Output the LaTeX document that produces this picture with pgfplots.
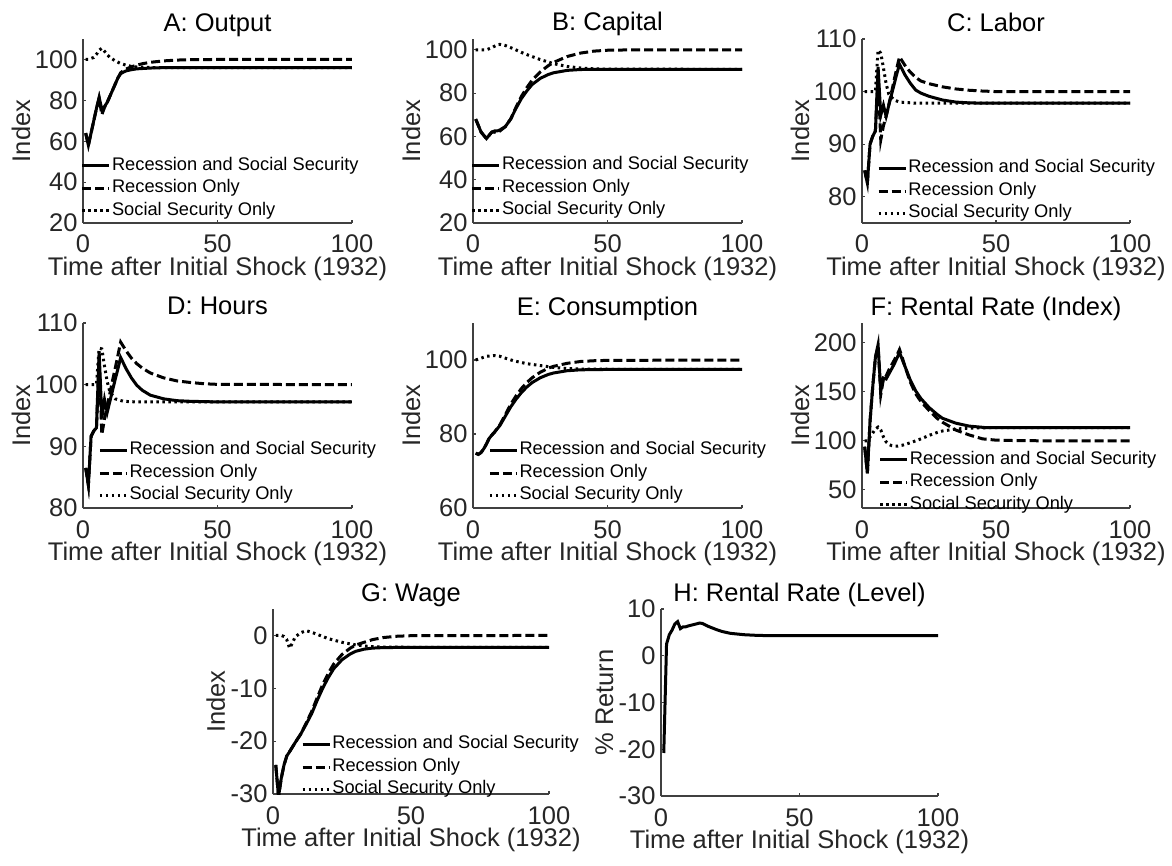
\documentclass[border=0pt]{standalone}
\usepackage{fontspec}
\setmainfont{Liberation Sans}
\usepackage{pgfplots}
\pgfplotsset{compat=1.18}

\pgfplotsset{
  mstyle/.style={
    scale only axis,
    anchor=south west,
    axis x line*=bottom, axis y line*=left,
    axis line style={black!75, line width=0.45pt},
    xmin=0, xmax=100, xtick={0,50,100},
    tick align=inside, major tick length=1.2pt,
    tick style={black!75, line width=0.45pt},
    ticklabel style={font=\fontsize{10.2}{12}\selectfont, text=black!85},
    /pgf/number format/assume math mode=true,
    xticklabel style={anchor=base, yshift=-12pt, inner sep=0pt},
    yticklabel style={anchor=east, inner sep=0pt, xshift=-2pt},
    every axis title shift=0pt,
    title style={at={(axis description cs:0.5,1)}, anchor=base, yshift=3.2pt, inner sep=0pt, font=\fontsize{10.2}{12}\selectfont},
    xlabel style={at={(axis description cs:0.5,0)}, anchor=base, yshift=-20.8pt, inner sep=0pt, font=\fontsize{10.2}{12}\selectfont, text=black!85},
    ylabel style={at={(axis description cs:-0.197,0.5)}, anchor=base, inner sep=0pt, font=\fontsize{10.2}{12}\selectfont, text=black!85},
    xlabel={Time after Initial Shock (1932)}, ylabel={Index},
    legend cell align=left,
    legend image code/.code={\draw[#1] (0pt,0pt) -- (10.8pt,0pt);},
    legend style={draw=none, fill=none, anchor=north west, inner sep=0pt,
      font=\fontsize{7.3}{9}\selectfont, row sep=0pt, column sep=0.5pt,
      nodes={inner sep=0pt, text height=6.2pt, text depth=2.8pt}},
  },
  s1/.style={black, line width=1.2pt},
  s2/.style={black, line width=1.2pt, dash pattern=on 3.6pt off 1.6pt},
  s3/.style={black, line width=1.2pt, dash pattern=on 1pt off 1.4pt},
}

\begin{document}
\begin{tikzpicture}
\useasboundingbox (0,0) rectangle (468.8pt,346pt);

% A: Output
\begin{axis}[mstyle, at={(33.2pt,256.8pt)}, width=107.6pt, height=73.6pt,
  ymin=20, ymax=110, ytick={20,40,60,80,100}, title={A: Output},
  legend style={at={(-0.01,0.375)}}]
\addplot[s1] coordinates {(1,64) (2,58) (3,64) (4,70) (5,76) (6,81.5) (7,75.5) (8,77) (9,79) (10,82) (11,85) (12,88) (13,91) (14,93) (15,93.8) (16,94.4) (18,95) (20,95.4) (25,95.8) (30,96) (40,96) (100,96)};
\addplot[s2] coordinates {(1,64) (2,58) (3,64) (4,70) (5,76) (6,81) (7,73) (8,76.5) (9,79) (10,82) (11,85) (12,88) (13,91) (14,93.5) (15,94.5) (16,95.3) (18,96.4) (20,97.2) (22,97.9) (25,98.6) (30,99.3) (35,99.7) (40,99.9) (50,100) (100,100)};
\addplot[s3] coordinates {(1,100) (2,100) (3,100.5) (4,101) (5,102.5) (6,104.5) (7,105.5) (8,104) (9,102.3) (10,101) (12,99.3) (14,98) (16,97.2) (18,96.6) (20,96.3) (25,96.05) (30,96) (100,96)};
\legend{Recession and Social Security, Recession Only, Social Security Only}
\end{axis}

% B: Capital
\begin{axis}[mstyle, at={(189.2pt,256.8pt)}, width=107.6pt, height=73.6pt,
  ymin=20, ymax=105, ytick={20,40,60,80,100}, title={B: Capital},
  legend style={at={(-0.01,0.375)}}]
\addplot[s1] coordinates {(1,68) (2,65) (3,62) (4,60.5) (5,59) (6,60.5) (7,62) (8,62.5) (9,62.5) (10,63) (12,64.5) (14,68) (16,73) (18,77.5) (20,81) (22,84) (25,86.8) (28,88.6) (30,89.4) (35,90.5) (40,90.9) (50,91) (100,91)};
\addplot[s2] coordinates {(1,68) (2,65) (3,62) (4,60.5) (5,59) (6,60.5) (7,62) (8,62) (9,61.5) (10,62.5) (12,64.5) (14,68) (16,73.5) (18,78.5) (20,82.5) (22,86) (25,89.8) (28,92.7) (30,94.2) (35,96.9) (40,98.5) (45,99.4) (50,99.8) (60,100) (100,100)};
\addplot[s3] coordinates {(1,100) (3,100) (5,100) (7,101) (9,102.3) (10,102.5) (12,102) (15,100.5) (18,98.8) (20,97.8) (25,95.5) (30,93.6) (35,92.3) (40,91.6) (45,91.2) (50,91.05) (100,91)};
\legend{Recession and Social Security, Recession Only, Social Security Only}
\end{axis}

% C: Labor
\begin{axis}[mstyle, at={(344.8pt,256.8pt)}, width=107.2pt, height=73.6pt,
  ymin=75, ymax=110, ytick={80,90,100,110}, title={C: Labor},
  legend style={at={(0.055,0.36)}}]
\addplot[s1] coordinates {(1,85) (2,82.6) (3,90) (4,91.5) (5,92.5) (6,104.7) (7,95.5) (8,97.4) (9,95.3) (10,97.4) (11,99.4) (12,101.4) (13,103.4) (14,105.2) (15,104.2) (16,103.2) (18,101.6) (20,100.3) (22,99.7) (25,99.1) (30,98.4) (35,98) (40,97.85) (45,97.8) (100,97.8)};
\addplot[s2] coordinates {(1,85) (2,82.6) (3,90) (4,91.5) (5,92.5) (6,103) (7,90.8) (8,93.5) (9,95.3) (10,97.5) (11,99.8) (12,102.2) (13,104.5) (14,106.6) (15,105.8) (16,105) (18,103.7) (20,102.7) (22,102) (25,101.5) (30,100.9) (35,100.5) (40,100.25) (45,100.1) (50,100) (100,100)};
\addplot[s3] coordinates {(1,100) (5,100) (6,107.9) (7,107.3) (8,104.5) (9,101.5) (10,99.5) (12,98.4) (14,98) (20,97.8) (100,97.8)};
\legend{Recession and Social Security, Recession Only, Social Security Only}
\end{axis}

% D: Hours
\begin{axis}[mstyle, at={(33.2pt,142.8pt)}, width=107.6pt, height=74pt,
  ymin=80, ymax=110, ytick={80,90,100,110}, title={D: Hours},
  legend style={at={(0.055,0.373)}}]
\addplot[s1] coordinates {(1,86.5) (2,83.7) (3,91.6) (4,92.5) (5,93) (6,105.4) (7,94.6) (8,97.6) (9,95.5) (10,97.3) (11,99.1) (12,100.9) (13,102.6) (14,104.4) (15,103.5) (16,102.6) (18,101.1) (20,99.9) (22,99.1) (25,98.3) (30,97.7) (35,97.4) (40,97.3) (50,97.2) (100,97.2)};
\addplot[s2] coordinates {(1,86.5) (2,83.7) (3,91.6) (4,92.5) (5,93) (6,104) (7,91.9) (8,94.5) (9,96.5) (10,98.6) (11,100.7) (12,102.7) (13,104.8) (14,106.9) (15,106.2) (16,105.5) (18,104.3) (20,103.4) (22,102.7) (25,101.9) (30,101.1) (35,100.6) (40,100.35) (45,100.15) (50,100.05) (100,100)};
\addplot[s3] coordinates {(1,100) (5,100) (6,105.9) (7,105.8) (8,103) (9,100.5) (10,98.8) (12,97.7) (15,97.3) (20,97.2) (100,97.2)};
\legend{Recession and Social Security, Recession Only, Social Security Only}
\end{axis}

% E: Consumption
\begin{axis}[mstyle, at={(189.2pt,142.8pt)}, width=107.6pt, height=74pt,
  ymin=60, ymax=110, ytick={60,80,100}, title={E: Consumption},
  legend style={at={(0.055,0.373)}}]
\addplot[s1] coordinates {(1,74.8) (2,74.5) (3,75) (4,76) (5,77.3) (6,78.8) (7,79.7) (8,80.5) (10,82.3) (12,84.8) (14,87.3) (16,89.4) (18,91.2) (20,92.7) (22,93.9) (25,95.2) (28,96.1) (30,96.5) (35,97.1) (40,97.35) (50,97.45) (100,97.5)};
\addplot[s2] coordinates {(1,74.8) (2,74.5) (3,75) (4,76) (5,77.3) (6,78.8) (7,79.7) (8,80.5) (10,82.5) (12,85.2) (14,88) (16,90.3) (18,92.3) (20,93.9) (22,95.2) (25,96.7) (28,97.8) (30,98.3) (35,99.1) (40,99.6) (45,99.8) (50,99.9) (100,100)};
\addplot[s3] coordinates {(1,100) (3,100.5) (5,101) (8,101.2) (10,101) (12,100.5) (15,99.8) (20,99) (25,98.5) (30,98) (35,97.7) (40,97.55) (50,97.5) (100,97.5)};
\legend{Recession and Social Security, Recession Only, Social Security Only}
\end{axis}

% F: Rental Rate (Index)
\begin{axis}[mstyle, at={(344.8pt,142.8pt)}, width=107.2pt, height=74pt,
  ymin=31.6, ymax=220, ytick={50,100,150,200}, title={F: Rental Rate (Index)},
  legend style={at={(0.06,0.324)}}]
\addplot[s1] coordinates {(1,94) (2,67) (3,120) (4,155) (5,185) (6,198) (7,151) (8,164) (9,163) (10,168) (11,173) (12,178) (13,184) (14,190) (15,183) (16,176) (18,162) (20,151) (22,143) (25,134) (28,127) (30,123) (35,118) (40,115) (46,113.5) (100,113.5)};
\addplot[s2] coordinates {(1,94) (2,67) (3,120) (4,155) (5,185) (6,196) (7,147) (8,163) (9,166) (10,172) (11,177) (12,182) (13,187) (14,193) (15,185) (16,176) (18,160) (20,148) (22,140) (25,131) (28,123) (30,119) (35,111) (40,106) (45,102) (50,100.7) (60,100.1) (100,100)};
\addplot[s3] coordinates {(1,100) (2,100) (3,104) (4,108) (5,112) (6,114) (7,111) (8,104) (9,99) (10,96.5) (11,95.2) (12,94.7) (13,94.5) (15,95.5) (18,98) (20,100) (22,102) (25,105.5) (28,108.5) (30,110) (35,112) (40,113) (50,113.5) (100,113.5)};
\legend{Recession and Social Security, Recession Only, Social Security Only}
\end{axis}

% G: Wage
\begin{axis}[mstyle, at={(109.2pt,28.4pt)}, width=110.4pt, height=74pt,
  ymin=-30, ymax=5, ytick={-30,-20,-10,0}, title={G: Wage},
  ylabel style={at={(axis description cs:-0.174,0.5)}},
  legend style={at={(0.1,0.33)}}]
\addplot[s1] coordinates {(1,-24.5) (2,-30.5) (3,-27) (4,-24.5) (5,-22.8) (6,-22) (8,-20.3) (10,-18.7) (12,-16.8) (14,-14.8) (16,-12.3) (18,-10) (20,-8) (22,-6.3) (25,-4.6) (28,-3.5) (30,-3) (33,-2.6) (36,-2.4) (40,-2.3) (50,-2.25) (100,-2.25)};
\addplot[s2] coordinates {(1,-24.5) (2,-30.5) (3,-27) (4,-24.5) (5,-22.8) (6,-22) (8,-20.3) (10,-18.7) (12,-16.6) (14,-14.4) (16,-11.8) (18,-9.3) (20,-7.2) (22,-5.4) (25,-3.6) (28,-2.4) (30,-1.8) (33,-1.3) (36,-0.8) (40,-0.4) (45,-0.15) (50,-0.05) (100,0)};
\addplot[s3] coordinates {(1,0) (3,0) (4,-0.2) (5,-0.8) (6,-2.4) (7,-1.5) (8,-0.3) (10,0.5) (12,0.9) (14,0.6) (16,0.2) (18,-0.2) (20,-0.6) (25,-1.3) (30,-1.8) (35,-2.1) (40,-2.2) (50,-2.25) (100,-2.25)};
\legend{Recession and Social Security, Recession Only, Social Security Only}
\end{axis}

% H: Rental Rate (Level)
\begin{axis}[mstyle, at={(264.4pt,27.6pt)}, width=110.8pt, height=74.8pt,
  ymin=-30, ymax=10, ytick={-30,-20,-10,0,10}, title={H: Rental Rate (Level)},
  ylabel={\% Return}, ylabel style={at={(axis description cs:-0.173,0.5)}}]
\addplot[s1] coordinates {(1,-20.8) (2,2.5) (3,4.5) (4,5.5) (5,6.8) (6,7.3) (7,5.8) (8,6.2) (9,6.2) (10,6.4) (12,6.7) (14,7) (15,6.9) (17,6.3) (20,5.6) (22,5.2) (25,4.8) (30,4.5) (35,4.35) (40,4.3) (100,4.3)};
\end{axis}
\end{tikzpicture}
\end{document}
